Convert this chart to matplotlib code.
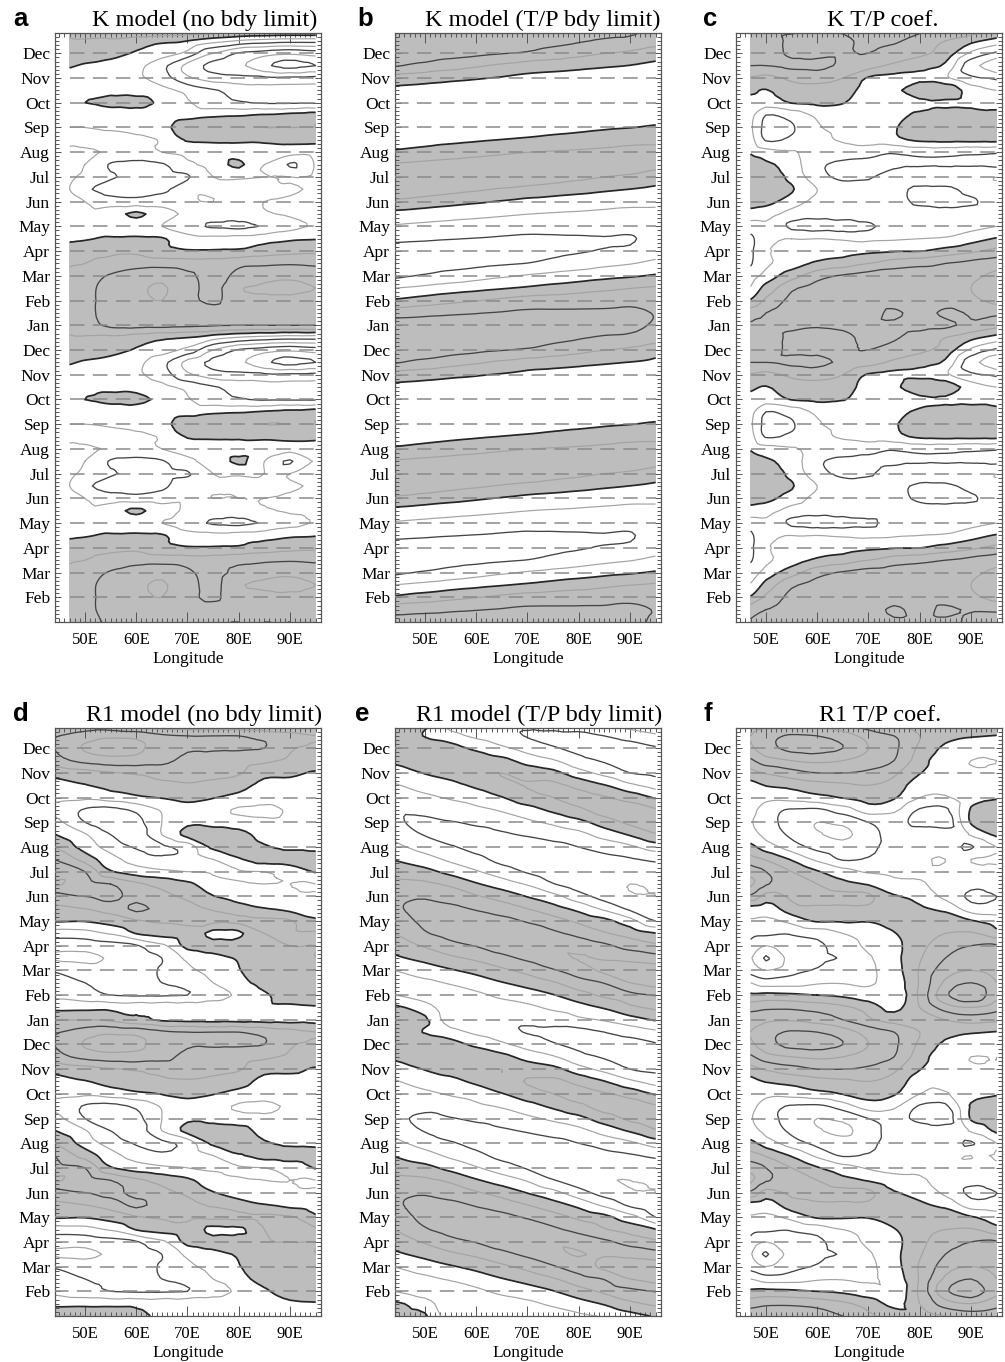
import numpy as np
import matplotlib
matplotlib.use("Agg")
import matplotlib.pyplot as plt
import matplotlib.tri as mtri
from matplotlib.ticker import MultipleLocator

SERIF = ["Liberation Serif", "DejaVu Serif"]
SANS = ["Liberation Sans", "DejaVu Sans"]

# Annual cycle sampled every half month (0 = January); shown twice per panel
cycle_months = np.arange(0.0, 12.0, 0.5)
month_names = ["Jan", "Feb", "Mar", "Apr", "May", "Jun",
               "Jul", "Aug", "Sep", "Oct", "Nov", "Dec"]
lon_ticks = [50, 60, 70, 80, 90]
lon_tick_labels = ["50E", "60E", "70E", "80E", "90E"]

# Grid longitudes (coastal-limited panels start at 47E, open ones at the frame)
lon_coastal = [47, 50, 55, 60, 65, 70, 75, 80, 85, 90, 95]
lon_open = [44, 50, 55, 60, 65, 70, 75, 80, 85, 90, 95]

# ---- a: K model (no bdy limit); rows = half-month, cols = lon_coastal
k_free = [
    [1.3, 1.6, 2.2, 2.3, 2.3, 2.2, 2.1, 2.0, 2.0, 2.0, 2.0],
    [1.3, 1.7, 2.4, 2.6, 2.7, 2.5, 2.4, 2.6, 2.7, 2.7, 2.6],
    [1.3, 1.7, 2.4, 2.7, 3.0, 2.3, 1.8, 2.7, 2.8, 2.8, 2.7],
    [1.3, 1.7, 2.4, 2.8, 3.1, 2.4, 1.7, 2.9, 3.1, 3.2, 3.0],
    [1.2, 1.5, 2.1, 2.5, 2.7, 2.2, 1.6, 2.3, 2.7, 2.8, 2.6],
    [0.9, 1.0, 1.3, 1.6, 1.6, 1.5, 1.5, 1.7, 1.8, 1.9, 1.8],
    [0.6, 0.7, 0.8, 0.8, 0.3, 0.1, 0.1, 0.15, 0.5, 0.7, 0.8],
    [-0.2, -0.1, 0.15, 0.2, 0.1, -0.6, -0.7, -0.6, -0.4, -0.15, -0.05],
    [-0.6, -0.6, -0.7, -0.8, -1.0, -1.6, -2.1, -2.2, -1.9, -1.3, -0.9],
    [-0.7, -0.8, -0.4, 0.2, -0.5, -1.2, -1.4, -1.3, -1.1, -0.9, -0.7],
    [-0.8, -1.0, -1.5, -1.6, -1.5, -1.1, -1.0, -1.0, -1.0, -0.9, -0.8],
    [-1.0, -1.8, -2.4, -2.5, -2.2, -1.3, -1.1, -1.2, -1.2, -1.1, -0.9],
    [-0.9, -1.2, -1.9, -2.1, -2.4, -2.1, -1.0, -0.9, -1.0, -1.0, -0.8],
    [-0.8, -1.0, -2.1, -2.3, -2.1, -1.2, -0.6, 0.2, -1.0, -2.1, -0.9],
    [-0.8, -0.9, -1.1, -1.2, -1.0, -0.7, -0.6, -0.5, -0.5, -0.6, -0.6],
    [-1.2, -1.2, -1.3, -1.2, -0.9, 0.1, 0.2, 0.2, 0.2, 0.3, 0.3],
    [-1.0, -1.0, -0.9, -0.7, -0.4, 0.7, 0.9, 0.9, 1.0, 1.0, 1.0],
    [-0.8, -0.8, -0.7, -0.6, -0.6, -0.4, -0.2, -0.1, 0.1, 0.3, 0.5],
    [-0.4, 0.0, 0.3, 0.3, -0.2, -0.9, -1.6, -1.9, -2.1, -2.1, -2.1],
    [-0.5, -0.4, -0.3, -0.4, -0.7, -1.3, -1.9, -2.3, -2.5, -2.5, -2.5],
    [-0.4, -0.5, -0.6, -0.8, -1.5, -2.8, -3.5, -3.7, -3.8, -3.8, -3.7],
    [0.1, -0.1, -0.3, -0.7, -1.7, -3.3, -4.3, -4.8, -5.8, -6.3, -6.0],
    [0.6, 0.5, 0.3, -0.1, -0.5, -1.3, -3.0, -4.1, -4.5, -4.8, -4.5],
    [0.9, 0.9, 0.8, 0.5, 0.2, 0.0, -0.6, -1.1, -1.4, -1.6, -1.6],
]

# ---- b: K model (T/P bdy limit); one half-month series per longitude
k_tp_44 = [2.4, 1.6, 0.15, -1.0, -2.2, -2.6, -2.4, -1.8, -1.1, -0.3, 0.8, 1.8,
           1.8, 1.1, 0.15, -0.5, -0.8, -0.9, -0.7, -0.25, 0.6, 2.1, 2.7, 2.8]
k_tp_50 = [2.44, 1.74, 0.46, -0.74, -1.90, -2.46, -2.39, -1.89, -1.23, -0.47, 0.55, 1.55,
           1.76, 1.23, 0.35, -0.35, -0.72, -0.86, -0.73, -0.34, 0.40, 1.73, 2.52, 2.72]
k_tp_55 = [2.47, 1.86, 0.73, -0.50, -1.63, -2.33, -2.38, -1.97, -1.33, -0.61, 0.33, 1.32,
           1.73, 1.33, 0.53, -0.22, -0.64, -0.83, -0.75, -0.42, 0.23, 1.41, 2.35, 2.65]
k_tp_60 = [2.48, 1.96, 0.96, -0.29, -1.39, -2.22, -2.37, -2.03, -1.43, -0.73, 0.13, 1.13,
           1.69, 1.43, 0.68, -0.10, -0.58, -0.79, -0.77, -0.49, 0.08, 1.13, 2.20, 2.58]
k_tp_65 = [2.50, 2.06, 1.21, -0.07, -1.14, -2.10, -2.36, -2.10, -1.53, -0.86, -0.07, 0.92,
           1.66, 1.53, 0.84, 0.02, -0.52, -0.75, -0.79, -0.56, -0.07, 0.83, 2.04, 2.50]
k_tp_70 = [2.52, 2.16, 1.44, 0.14, -0.90, -1.98, -2.34, -2.16, -1.62, -0.99, -0.27, 0.72,
           1.62, 1.62, 0.99, 0.14, -0.45, -0.72, -0.81, -0.63, -0.23, 0.54, 1.89, 2.43]
k_tp_75 = [2.42, 2.15, 1.51, 0.36, -0.69, -1.72, -2.20, -2.12, -1.66, -1.07, -0.38, 0.52,
           1.41, 1.57, 1.07, 0.28, -0.33, -0.65, -0.77, -0.64, -0.29, 0.39, 1.59, 2.25]
k_tp_80 = [2.32, 2.13, 1.59, 0.56, -0.50, -1.49, -2.07, -2.07, -1.70, -1.13, -0.50, 0.34,
           1.21, 1.51, 1.13, 0.41, -0.23, -0.58, -0.72, -0.65, -0.34, 0.24, 1.31, 2.08]
k_tp_85 = [2.22, 2.12, 1.66, 0.78, -0.29, -1.24, -1.93, -2.03, -1.73, -1.21, -0.61, 0.15,
           1.00, 1.46, 1.21, 0.55, -0.11, -0.51, -0.68, -0.66, -0.41, 0.10, 1.02, 1.91]
k_tp_90 = [2.18, 2.16, 1.75, 0.98, -0.12, -1.05, -1.84, -2.04, -1.79, -1.30, -0.71, -0.01,
           0.85, 1.44, 1.30, 0.68, -0.02, -0.46, -0.66, -0.68, -0.46, -0.02, 0.79, 1.81]
k_tp_95 = [1.89, 1.96, 1.68, 1.12, 0.11, -0.70, -1.54, -1.82, -1.68, -1.26, -0.77, -0.21,
           0.56, 1.26, 1.26, 0.77, 0.11, -0.35, -0.56, -0.63, -0.49, -0.18, 0.42, 1.47]

# ---- c: K T/P coef.; rows = half-month, cols = lon_coastal
k_coef = [
    [2.1, 2.2, 2.2, 2.1, 2.2, 2.3, 2.2, 2.3, 2.2, 1.8, 1.3],
    [1.6, 2.0, 2.5, 2.6, 2.7, 2.5, 1.8, 2.4, 1.8, 2.1, 2.2],
    [0.1, 1.2, 2.3, 2.7, 2.8, 2.7, 2.6, 2.6, 2.5, 2.8, 3.3],
    [-0.9, 0.4, 1.8, 2.4, 2.8, 2.8, 2.8, 2.8, 2.7, 3.0, 3.5],
    [-1.5, -0.6, 0.6, 1.6, 2.1, 2.4, 2.5, 2.6, 2.5, 2.8, 3.2],
    [-2.1, -1.2, -0.5, 0.2, 0.5, 1.0, 1.5, 1.7, 2.0, 2.3, 2.6],
    [-2.2, -1.1, -0.9, -0.6, -0.4, -0.2, -0.05, -0.02, 0.4, 0.8, 1.3],
    [-2.2, -1.3, -1.0, -1.0, -1.1, -1.2, -1.1, -1.0, -0.9, -0.4, 0.1],
    [-1.5, -1.2, -2.2, -2.4, -2.4, -2.2, -1.5, -1.4, -1.4, -1.3, -1.0],
    [-0.4, -0.6, -1.4, -1.6, -1.5, -1.3, -1.4, -1.5, -1.6, -1.6, -1.5],
    [0.4, 0.3, -0.5, -1.3, -1.4, -1.3, -1.6, -2.2, -2.3, -2.1, -1.6],
    [0.8, 0.8, 0.1, -1.0, -1.5, -1.6, -1.7, -2.2, -2.2, -1.7, -1.3],
    [0.9, 0.8, -0.3, -1.6, -2.2, -2.1, -1.5, -1.3, -1.3, -1.2, -1.0],
    [0.6, 0.2, -0.5, -1.8, -2.2, -2.3, -2.2, -2.1, -2.1, -2.1, -2.2],
    [-0.1, -0.6, -0.9, -1.4, -1.5, -1.6, -1.9, -1.7, -1.7, -1.8, -1.9],
    [-0.6, -2.1, -1.8, -1.2, -0.9, -0.6, -0.3, 0.2, 0.3, 0.3, 0.3],
    [-0.8, -2.3, -2.1, -1.1, -0.8, -0.5, -0.1, 0.8, 0.9, 1.0, 0.9],
    [-0.7, -2.0, -1.6, -0.8, -0.6, -0.5, -0.3, 0.2, 0.5, 0.6, 0.3],
    [-0.3, -0.5, 0.05, 0.2, 0.05, -0.5, -0.4, -0.3, -0.2, -0.4, -0.4],
    [0.2, -0.05, 0.6, 0.7, 0.5, -0.4, -0.2, 0.8, 0.8, -0.5, -1.0],
    [0.9, 0.7, 1.2, 1.3, 1.0, -0.1, -0.3, -0.3, -0.8, -1.8, -2.2],
    [2.0, 2.0, 2.2, 2.3, 1.8, 1.4, 0.8, 0.4, -0.2, -2.6, -3.8],
    [2.3, 2.4, 1.8, 1.7, 1.9, 2.0, 1.6, 1.2, 0.6, -1.2, -2.2],
    [2.4, 2.5, 1.8, 1.6, 1.8, 2.2, 2.1, 1.6, 1.0, 0.3, -0.4],
]

# ---- d: R1 model (no bdy limit); rows = half-month, cols = lon_open
r1_free = [
    [1.0, 1.0, 0.8, 0.3, -0.15, -0.25, -0.3, -0.3, -0.3, -0.3, -0.3],
    [-0.3, -0.3, -0.3, -0.3, -0.3, -0.3, -0.3, -0.2, -0.1, -0.1, -0.05],
    [-1.2, -1.6, -2.0, -2.1, -2.1, -2.0, -1.5, -0.8, -0.1, 0.3, 0.4],
    [-1.5, -2.0, -2.2, -2.2, -2.0, -1.6, -1.0, -0.3, 0.3, 0.6, 0.7],
    [-2.1, -2.5, -2.6, -2.4, -1.9, -1.2, -0.7, -0.05, 0.5, 0.8, 0.9],
    [-3.1, -3.2, -2.9, -2.5, -2.0, -0.8, -0.3, 0.1, 0.7, 0.9, 1.0],
    [-2.6, -2.6, -2.4, -2.1, -1.2, 0.3, 0.4, 0.6, 0.9, 1.0, 1.0],
    [-1.5, -1.4, -0.9, 0.05, 0.4, 0.6, -0.3, -0.2, 1.0, 1.1, 1.1],
    [0.1, 0.05, 0.4, 0.9, 1.1, 1.2, 1.2, 1.2, 1.2, 1.1, 0.2],
    [0.8, 1.0, 1.4, 2.2, 1.7, 1.3, 0.9, 0.4, 0.05, -0.3, -0.6],
    [1.5, 2.0, 2.3, 1.6, 1.2, 0.8, 0.05, -0.4, -0.7, -0.8, -0.9],
    [3.1, 2.4, 2.0, 1.2, 0.7, 0.2, -0.6, -0.9, -1.0, -1.0, -1.0],
    [2.4, 2.0, 0.1, -0.5, -0.8, -1.0, -1.1, -1.1, -1.0, -0.7, 0.1],
    [2.0, 0.6, -0.6, -1.4, -1.8, -1.6, -1.0, -0.1, 0.4, 0.5, 0.6],
    [1.0, -0.4, -1.4, -2.1, -2.2, -1.6, 0.2, 0.5, 0.1, -0.2, -0.3],
    [0.05, -0.9, -2.0, -2.5, -1.0, 0.3, 0.6, 0.4, -0.4, -0.6, -0.6],
    [-0.6, -2.0, -2.6, -2.3, -1.0, -0.2, -0.4, -0.6, -0.8, -0.8, -0.7],
    [-1.2, -2.1, -2.3, -1.8, -0.9, -0.4, -0.7, -1.1, -1.2, -0.9, -0.7],
    [-0.8, -0.8, -0.5, -0.2, 0.05, 0.3, 0.05, -0.3, -0.6, -0.5, -0.5],
    [-0.3, -0.05, 0.3, 0.6, 0.8, 0.9, 0.7, 0.4, -0.3, -0.3, -0.3],
    [0.3, 0.6, 0.9, 1.1, 1.3, 1.4, 1.3, 1.1, 0.3, 0.2, -0.1],
    [1.6, 2.3, 2.6, 2.6, 2.3, 1.7, 1.5, 1.4, 1.2, 0.8, 0.6],
    [2.0, 3.1, 3.4, 3.2, 2.5, 2.1, 2.1, 2.1, 2.0, 1.1, 0.8],
    [1.9, 2.5, 2.8, 2.7, 2.2, 2.0, 2.0, 2.0, 1.7, 1.3, 1.0],
]

# ---- e: R1 model (T/P bdy limit); one half-month series per longitude
r1_tp_44 = [0.4, 0.2, -1.0, -1.4, -1.0, -0.2, 0.4, 1.0, 1.6, 1.9, 1.8, 1.3,
            0.6, -0.05, -0.7, -1.3, -1.8, -1.9, -1.6, -1.1, -0.5, 0.2, 0.7, 0.6]
r1_tp_50 = [0.15, -0.5, -1.5, -1.2, -0.5, 0.3, 1.1, 1.9, 2.2, 2.2, 1.9, 1.2,
            0.3, -0.6, -1.4, -2.05, -2.2, -1.7, -1.2, -0.6, 0.05, 0.6, 0.7, -0.05]
r1_tp_55 = [-1.6, -1.7, -1.5, -0.9, -0.1, 0.8, 1.7, 2.3, 2.4, 2.2, 1.6, 0.8,
            -0.3, -1.2, -1.9, -2.4, -2.05, -1.5, -0.9, -0.3, 0.4, 0.8, 0.4, -0.6]
r1_tp_60 = [-1.8, -1.6, -1.2, -0.5, 0.3, 1.2, 2.05, 2.6, 2.5, 1.9, 1.1, 0.1,
            -0.9, -1.7, -2.3, -2.4, -1.8, -1.2, -0.6, 0.2, 0.8, 0.6, -0.2, -1.2]
r1_tp_65 = [-1.8, -1.4, -0.8, -0.05, 0.8, 1.7, 2.5, 2.7, 2.3, 1.5, 0.6, -0.5,
            -1.5, -2.3, -2.5, -2.15, -1.5, -0.9, -0.05, 0.7, 1.0, 0.3, -0.8, -1.6]
r1_tp_70 = [-1.8, -1.2, -0.5, 0.4, 1.3, 2.2, 2.8, 2.6, 1.9, 1.0, -0.05, -1.1,
            -2.1, -2.6, -2.5, -1.9, -1.2, -0.4, 0.6, 1.05, 0.6, -0.4, -1.4, -2.05]
r1_tp_75 = [-1.6, -0.8, -0.05, 0.9, 1.9, 2.7, 2.9, 2.2, 1.4, 0.4, -0.7, -1.95,
            -2.6, -2.7, -2.3, -1.6, -0.8, 0.2, 1.0, 1.2, 0.3, -0.9, -1.9, -2.2]
r1_tp_80 = [-1.2, -0.4, 0.6, 1.6, 2.5, 3.05, 2.6, 1.7, 0.8, -0.3, -1.6, -2.5,
            -2.8, -2.6, -2.0, -1.3, -0.3, 0.8, 1.3, 0.7, -0.6, -1.7, -2.2, -2.3]
r1_tp_85 = [-0.9, 0.1, 1.2, 2.05, 3.2, 2.9, 2.2, 1.1, 0.3, -1.2, -2.4, -2.9,
            -2.8, -2.3, -1.6, -0.6, 0.5, 1.4, 1.1, 0.05, -1.3, -2.1, -2.4, -2.0]
r1_tp_90 = [-0.4, 0.8, 1.7, 3.0, 3.5, 2.7, 1.6, 0.6, -0.6, -2.2, -2.9, -3.0,
            -2.6, -2.1, -1.2, 0.1, 1.2, 1.5, 0.6, -0.8, -2.0, -2.5, -2.4, -1.6]
r1_tp_95 = [0.1, 1.2, 2.05, 3.4, 3.5, 2.4, 1.2, 0.05, -2.0, -2.8, -3.0, -2.9,
            -2.5, -1.8, -0.5, 0.9, 1.5, 1.1, -0.1, -1.4, -2.2, -2.5, -2.1, -1.2]

# ---- f: R1 T/P coef.; rows = half-month, cols = lon_coastal
r1_coef = [
    [2.6, 2.8, 2.9, 2.6, 2.0, 1.2, 0.6, 0.4, 1.0, 1.4, 1.2],
    [1.6, 1.8, 1.8, 1.6, 1.2, 0.6, -0.3, 1.0, 2.5, 3.0, 2.4],
    [0.2, 0.3, 0.2, 0.0, -0.2, -0.6, -0.8, 1.2, 3.8, 4.8, 3.2],
    [-1.0, -1.5, -1.4, -1.1, -1.05, -1.1, -0.6, 1.1, 3.2, 4.0, 3.0],
    [-2.4, -3.0, -2.3, -1.9, -1.5, -1.2, -0.4, 1.1, 2.5, 3.0, 2.6],
    [-2.9, -4.1, -2.6, -2.2, -1.9, -1.1, -0.3, 0.9, 2.0, 2.4, 2.3],
    [-2.3, -3.0, -2.4, -2.2, -1.5, -0.8, -0.3, 0.7, 1.6, 2.0, 2.1],
    [-1.7, -1.8, -1.9, -1.6, -1.0, -0.6, -0.05, 0.6, 1.0, 1.1, 0.3],
    [-1.1, -1.2, -0.7, 0.1, 0.1, 0.05, 0.4, 0.7, 0.8, 0.1, -0.4],
    [-0.4, -0.5, 0.6, 0.8, 0.8, 0.8, 0.7, 0.2, -0.3, -1.5, -1.6],
    [1.8, 0.6, 1.2, 1.4, 1.3, 1.2, 0.1, -0.4, -1.2, -2.2, -2.0],
    [3.2, 2.1, 1.6, 1.0, 0.3, -0.1, -0.7, -0.9, -1.3, -1.7, -1.5],
    [2.6, 2.0, 1.0, 0.1, -0.6, -1.1, -1.2, -1.1, -1.2, -1.4, -1.2],
    [1.4, 0.9, -0.1, -1.2, -2.1, -1.9, -1.4, -1.1, -1.0, -1.0, -0.9],
    [0.3, -0.5, -1.5, -2.3, -2.6, -2.3, -1.5, -1.2, -1.5, -2.1, -1.0],
    [-0.6, -1.3, -2.2, -2.9, -3.2, -2.5, -1.5, -1.3, -1.3, -0.9, 0.2],
    [-0.9, -1.6, -2.4, -3.0, -2.8, -2.0, -1.6, -2.3, -2.6, 0.1, 0.6],
    [-0.7, -1.5, -2.1, -2.2, -1.5, -0.5, -0.8, -2.1, -2.2, 0.1, 0.6],
    [-0.5, -0.7, -0.6, -0.3, 0.05, 0.4, 0.1, -1.0, -1.1, -0.4, -0.1],
    [-0.3, 0.05, 0.3, 0.6, 0.8, 1.0, 0.6, -0.6, -0.8, -0.7, -0.7],
    [0.6, 1.1, 1.6, 2.0, 2.0, 1.8, 1.2, 0.05, -0.7, -0.9, -0.9],
    [1.8, 2.6, 3.0, 3.2, 3.0, 2.6, 2.0, 0.5, -0.8, -1.0, -1.0],
    [2.8, 3.6, 4.3, 4.4, 4.0, 3.0, 2.2, 0.8, -0.2, -0.6, -0.8],
    [3.0, 3.6, 4.1, 4.0, 3.5, 2.6, 2.0, 1.0, 0.3, 0.1, -0.05],
]

k_tp = np.column_stack([k_tp_44, k_tp_50, k_tp_55, k_tp_60, k_tp_65, k_tp_70,
                        k_tp_75, k_tp_80, k_tp_85, k_tp_90, k_tp_95])
r1_tp = np.column_stack([r1_tp_44, r1_tp_50, r1_tp_55, r1_tp_60, r1_tp_65, r1_tp_70,
                         r1_tp_75, r1_tp_80, r1_tp_85, r1_tp_90, r1_tp_95])

FILL = "#bdbdbd"
ZERO_LINE = "#262626"
EVEN_LINE = "#444444"
ODD_LINE = "#a3a3a3"
DASH = "#8a8a8a"

FIG_W, FIG_H = 1005, 1362


def fx(px):
    return px / FIG_W


def fy(py):
    return 1 - py / FIG_H


def smooth_mesh(lon, t, z):
    """Triangulate the grid (in cell units) and let matplotlib refine it."""
    ii, jj = np.meshgrid(np.arange(len(lon), dtype=float),
                         np.arange(len(t), dtype=float))
    tri = mtri.Triangulation(ii.ravel(), jj.ravel())
    refiner = mtri.UniformTriRefiner(tri)
    interp = mtri.CubicTriInterpolator(tri, z.ravel(), kind="geom")
    tri_f, z_f = refiner.refine_field(z.ravel(), triinterpolator=interp, subdiv=2)
    xf = np.interp(tri_f.x, np.arange(len(lon)), lon)
    yf = np.interp(tri_f.y, np.arange(len(t)), t)
    return mtri.Triangulation(xf, yf, tri_f.triangles), z_f


def draw_panel(ax, lon, field):
    field = np.asarray(field, dtype=float)
    lon = np.asarray(lon, dtype=float)
    z = np.vstack([field, field, field[:1]])
    t = np.concatenate([cycle_months, cycle_months + 12, [24.0]])
    tri, zf = smooth_mesh(lon, t, z)
    ax.tricontourf(tri, zf, levels=[0, 50], colors=[FILL], zorder=1)
    levels = np.arange(-7, 8)
    colors, widths = [], []
    for lv in levels:
        if lv == 0:
            colors.append(ZERO_LINE); widths.append(1.25)
        elif lv % 2 == 0:
            colors.append(EVEN_LINE); widths.append(0.95)
        else:
            colors.append(ODD_LINE); widths.append(0.85)
    ax.tricontour(tri, zf, levels=levels, colors=colors, linewidths=widths,
                  linestyles="solid", zorder=2)
    for m in range(1, 24):
        ax.hlines(m, lon[0], lon[-1], colors=DASH, linewidth=1.1,
                  linestyles=(0, (9.5, 5.5)), zorder=3)

    ax.set_xlim(44.15, 96.05)
    ax.set_ylim(0, 23.82)
    ax.set_xticks(lon_ticks)
    ax.set_xticklabels(lon_tick_labels, fontfamily=SERIF, fontsize=12)
    ax.xaxis.set_minor_locator(MultipleLocator(1))
    ax.set_yticks(range(1, 24))
    ax.set_yticklabels([month_names[m % 12] for m in range(1, 24)],
                       fontfamily=SERIF, fontsize=12.5)
    ax.yaxis.set_minor_locator(MultipleLocator(1 / 6))
    ax.tick_params(which="both", direction="in", top=True, right=True,
                   color="#555555", width=0.7)
    ax.tick_params(axis="x", which="major", length=7, pad=7)
    ax.tick_params(axis="x", which="minor", length=3.2)
    ax.tick_params(axis="y", which="major", length=4.5, pad=3.5)
    ax.tick_params(axis="y", which="minor", length=2.6)
    for sp in ax.spines.values():
        sp.set_color("#555555")
        sp.set_linewidth(0.9)


fig = plt.figure(figsize=(FIG_W / 100, FIG_H / 100), dpi=100)

panels = [
    # letter, title, left px, top px, bottom px, lon, field, letter x, title centre x
    ("a", "K model (no bdy limit)", 55, 33, 622, lon_coastal, k_free, 13, 205),
    ("b", "K model (T/P bdy limit)", 395, 33, 622, lon_open, k_tp, 357, 543),
    ("c", "K T/P coef.", 736, 33, 622, lon_coastal, k_coef, 703, 883),
    ("d", "R1 model (no bdy limit)", 55, 728, 1316, lon_open, r1_free, 13, 204),
    ("e", "R1 model (T/P bdy limit)", 395, 728, 1316, lon_open, r1_tp, 355, 539),
    ("f", "R1 T/P coef.", 736, 728, 1316, lon_coastal, r1_coef, 703, 880),
]

for letter, title, left, top, bottom, lon, field, lx, tx in panels:
    ax = fig.add_axes([fx(left), fy(bottom), 266 / FIG_W, (bottom - top) / FIG_H])
    draw_panel(ax, lon, field)
    base = top - 7
    fig.text(fx(lx), fy(base), letter, fontfamily=SANS, fontweight="bold",
             fontsize=18.5, ha="left", va="baseline")
    fig.text(fx(tx), fy(base), title, fontfamily=SERIF, fontsize=17.5,
             ha="center", va="baseline")
    fig.text(fx(left + 133), fy(bottom + 41), "Longitude", fontfamily=SERIF,
             fontsize=12.5, ha="center", va="baseline")

fig.savefig("out.png", dpi=100)
